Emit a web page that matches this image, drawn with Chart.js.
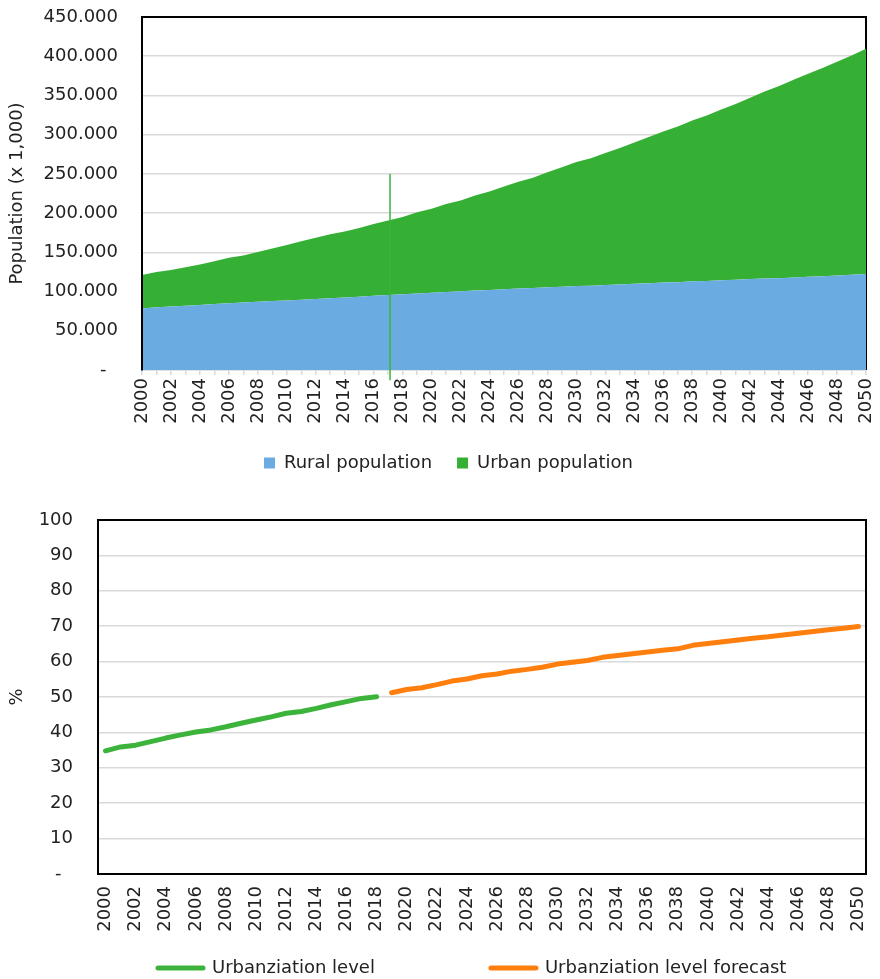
<!DOCTYPE html>
<html>
<head>
<title>Population and urbanization</title>
<script src="https://cdn.jsdelivr.net/npm/chart.js"></script>
<meta name="viewport" content="width=device-width, initial-scale=1.0">
<style>
  body { margin: 0; background: #fff; }
  canvas { display: block; }
</style>
</head>
<body>

<canvas id="popChart" width="880" height="490"></canvas>
<canvas id="urbChart" width="880" height="489"></canvas>

<script>
  // categories
  const years = [2000, 2001, 2002, 2003, 2004, 2005, 2006, 2007, 2008, 2009,
                 2010, 2011, 2012, 2013, 2014, 2015, 2016, 2017, 2018, 2019,
                 2020, 2021, 2022, 2023, 2024, 2025, 2026, 2027, 2028, 2029,
                 2030, 2031, 2032, 2033, 2034, 2035, 2036, 2037, 2038, 2039,
                 2040, 2041, 2042, 2043, 2044, 2045, 2046, 2047, 2048, 2049, 2050];

  // population (x 1,000)
  const ruralPop = [78500, 80000, 81000, 82000, 83000, 84000, 85000, 86000, 87000, 88000,
                    88500, 89500, 90500, 91500, 92500, 93500, 94500, 95500, 96500, 97500,
                    98500, 99500, 100500, 101500, 102000, 103000, 104000, 104500, 105500, 106000,
                    107000, 107500, 108500, 109000, 110000, 110500, 111500, 112000, 113000, 113500,
                    114500, 115000, 116000, 116500, 117000, 118000, 119000, 119500, 120500, 121500,
                    122500];
  const urbanPop = [42500, 45000, 46500, 49000, 51500, 54500, 58000, 60000, 63500, 67000,
                    71000, 74500, 78000, 81500, 84000, 87500, 91500, 95000, 98500, 103500,
                    107000, 112000, 115500, 121000, 125500, 131000, 136000, 140500, 146500, 152500,
                    158000, 162500, 168000, 174000, 180000, 186500, 192500, 198500, 205000, 211000,
                    217500, 224000, 231000, 238500, 245000, 252000, 258500, 265500, 272500, 279500,
                    287000];

  // vertical marker in the population chart (year, top value, bottom value)
  const markerYear = 2017.13;
  const markerTop = 250000;
  const markerBottom = -13000;

  // urbanization level (%)
  const urbanLevel = [34.8, 35.9, 36.4, 37.4, 38.4, 39.3, 40.1, 40.7, 41.6, 42.6,
                      43.5, 44.4, 45.4, 45.9, 46.8, 47.8, 48.7, 49.6, 50.1];
  const forecastStart = 2019;
  const urbanForecast = [51.2, 52.1, 52.6, 53.5, 54.5, 55.1, 56.0, 56.5, 57.3, 57.8,
                         58.4, 59.3, 59.8, 60.3, 61.2, 61.7, 62.2, 62.7, 63.2, 63.6,
                         64.6, 65.1, 65.6, 66.1, 66.6, 67.0, 67.5, 68.0, 68.5, 69.0,
                         69.4, 69.9];

  const FONT = 'DejaVu Sans';
  const TEXT = '#222222';
  const GRID = '#d9d9d9';

  Chart.defaults.font.family = FONT;
  Chart.defaults.font.size = 18;
  Chart.defaults.color = TEXT;
  Chart.defaults.animation = false;

  function dots(v) {
    if (v === 0) return '-\u2007';
    return String(v).replace(/\B(?=(\d{3})+(?!\d))/g, '.');
  }

  // fixed box size, and no extra label padding pushed into the layout
  function fixSize(w, h) {
    return (s) => {
      if (w != null) s.width = w;
      if (h != null) s.height = h;
      s.paddingTop = s.paddingBottom = s.paddingLeft = s.paddingRight = 0;
    };
  }

  // put the legend where it sits in the original
  const legendPos = {
    id: 'legendPos',
    afterLayout(chart, args, o) {
      const lg = chart.legend;
      lg.left = o.x - o.pad;
      lg.right = lg.left + 2000;
      lg.top = o.y - o.pad - o.size / 2;
    }
  };

  // black frame on top / right of the plot area
  const frame = {
    id: 'frame',
    beforeDatasetsDraw(chart) {
      const a = chart.chartArea, c = chart.ctx;
      c.save();
      c.strokeStyle = '#000';
      c.lineWidth = 2;
      c.beginPath();
      c.moveTo(a.left, a.top);
      c.lineTo(a.right, a.top);
      c.lineTo(a.right, a.bottom);
      c.stroke();
      c.restore();
    }
  };

  // vertical green marker line
  const marker = {
    id: 'marker',
    afterDatasetsDraw(chart) {
      const xs = chart.scales.x, ys = chart.scales.y, c = chart.ctx;
      const x = xs.getPixelForValue(markerYear - years[0]);
      c.save();
      c.strokeStyle = '#3cb43c';
      c.lineWidth = 1.5;
      c.beginPath();
      c.moveTo(x, ys.getPixelForValue(markerTop));
      c.lineTo(x, ys.getPixelForValue(markerBottom));
      c.stroke();
      c.restore();
    }
  };

  new Chart(document.getElementById('popChart'), {
    type: 'line',
    data: {
      labels: years,
      datasets: [{
        label: 'Rural population',
        data: ruralPop,
        backgroundColor: '#6aace2',
        borderWidth: 0,
        pointRadius: 0,
        fill: 'origin'
      }, {
        label: 'Urban population',
        data: urbanPop,
        backgroundColor: '#35b035',
        borderWidth: 0,
        pointRadius: 0,
        fill: '-1'
      }]
    },
    options: {
      responsive: false,
      layout: { padding: { left: 0, top: 17, right: 14, bottom: 8 } },
      scales: {
        x: {
          offset: false,
          grid: { drawOnChartArea: false, color: GRID, lineWidth: 1.5, tickLength: 5 },
          border: { color: GRID, width: 1.5 },
          ticks: {
            autoSkip: false, minRotation: 90, maxRotation: 90, padding: 3,
            callback: (v, i) => (i % 2 === 0 ? String(years[i]) : '')
          },
          afterFit: fixSize(null, 59)
        },
        y: {
          stacked: true,
          min: 0, max: 450000,
          grid: { color: GRID, lineWidth: 1.5, drawTicks: false },
          border: { color: '#000', width: 2, z: 1 },
          ticks: { stepSize: 50000, padding: 24, callback: (v) => dots(v) },
          title: { display: true, text: 'Population (x 1,000)', padding: { top: 7, bottom: 0 } },
          afterFit: fixSize(142, null)
        }
      },
      plugins: {
        legend: {
          position: 'bottom',
          align: 'start',
          labels: { boxWidth: 11, boxHeight: 11, padding: 25 }
        },
        legendPos: { x: 264, y: 463, pad: 25, size: 18 },
        tooltip: { enabled: false }
      }
    },
    plugins: [legendPos, frame, marker]
  });

  // urbanization chart: both series on the same 51 categories
  const levelData = urbanLevel.slice();
  const forecastData = years.map((y) => (y < forecastStart ? null : urbanForecast[y - forecastStart]));

  new Chart(document.getElementById('urbChart'), {
    type: 'line',
    data: {
      labels: years,
      datasets: [{
        label: 'Urbanziation level',
        data: levelData,
        borderColor: '#3cb43c',
        backgroundColor: '#3cb43c',
        borderWidth: 5,
        borderCapStyle: 'round',
        borderJoinStyle: 'round',
        pointRadius: 0,
        fill: false
      }, {
        label: 'Urbanziation level forecast',
        data: forecastData,
        borderColor: '#ff7f0e',
        backgroundColor: '#ff7f0e',
        borderWidth: 5,
        borderCapStyle: 'round',
        borderJoinStyle: 'round',
        pointRadius: 0,
        fill: false
      }]
    },
    options: {
      responsive: false,
      layout: { padding: { left: 0, top: 30, right: 14, bottom: 0 } },
      scales: {
        x: {
          offset: true,
          grid: { display: false, drawTicks: false },
          border: { color: '#000', width: 2 },
          ticks: { autoSkip: false, minRotation: 90, maxRotation: 90, padding: 12,
                   callback: (v, i) => (i % 2 === 0 ? String(years[i]) : '') },
          afterFit: fixSize(null, 60)
        },
        y: {
          min: 0, max: 100,
          grid: { color: GRID, lineWidth: 1.5, drawTicks: false },
          border: { color: '#000', width: 2 },
          ticks: { stepSize: 10, padding: 25, callback: (v) => dots(v) },
          title: { display: true, text: '%', padding: { top: 7, bottom: 0 } },
          afterFit: fixSize(98, null)
        }
      },
      plugins: {
        legend: {
          position: 'bottom',
          align: 'start',
          maxHeight: 45,
          labels: {
            usePointStyle: true,
            pointStyleWidth: 45,
            padding: 116,
            generateLabels: (chart) => chart.data.datasets.map((ds, i) => ({
              text: ds.label,
              fillStyle: ds.borderColor,
              strokeStyle: ds.borderColor,
              lineWidth: 5,
              lineCap: 'round',
              pointStyle: 'line',
              fontColor: TEXT,
              hidden: false,
              datasetIndex: i
            }))
          }
        },
        legendPos: { x: 158, y: 478, pad: 116, size: 18 },
        tooltip: { enabled: false }
      }
    },
    plugins: [legendPos, frame]
  });
</script>

</body>
</html>
